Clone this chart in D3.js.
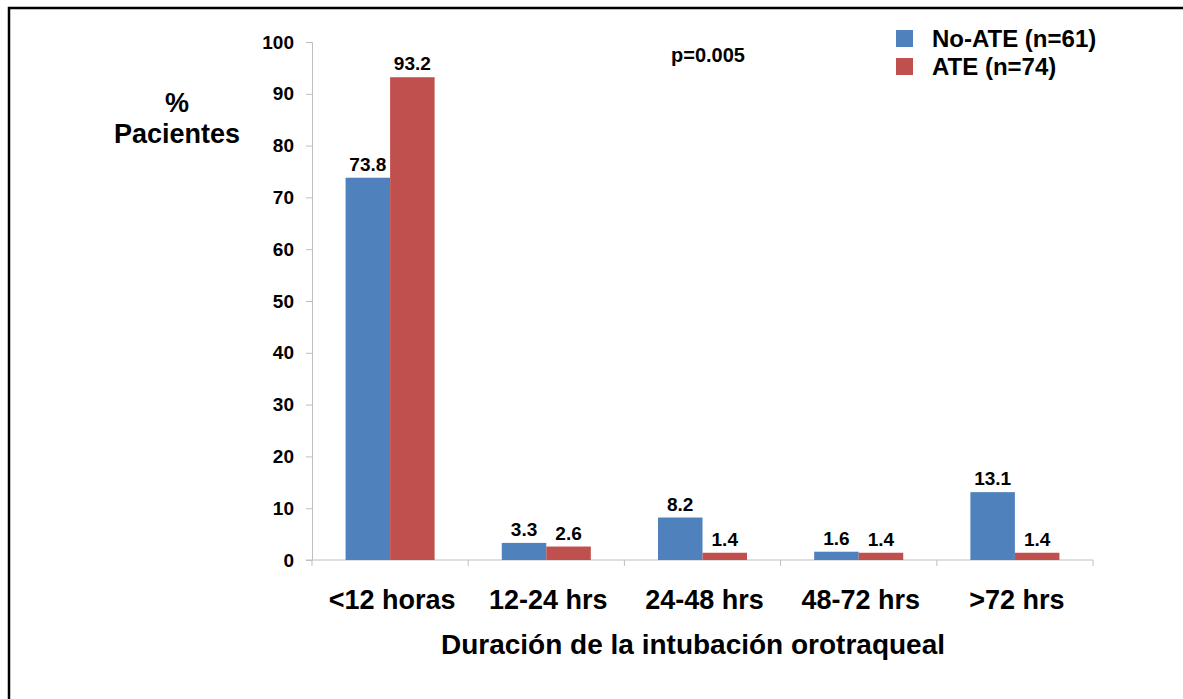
<!DOCTYPE html>
<html>
<head>
<meta charset="utf-8">
<script src="https://cdn.jsdelivr.net/npm/d3@7"></script>
<style>
  body { margin: 0; background: #fff; }
  text { font-family: "Liberation Sans", Arial, sans-serif; font-weight: bold; }
</style>
</head>
<body>
<svg width="1183" height="699"></svg>
<script>
const categories = [ '<12 horas', '12-24 hrs', '24-48 hrs', '48-72 hrs', '>72 hrs' ];
const series = [ 'No-ATE (n=61)', 'ATE (n=74)' ];
const noAte = [ 73.8, 3.3, 8.2, 1.6, 13.1 ];
const ate = [ 93.2, 2.6, 1.4, 1.4, 1.4 ];
const yTicks = [ 0, 10, 20, 30, 40, 50, 60, 70, 80, 90, 100 ];
const colors = [ '#4F81BD', '#C0504D' ];

const margin = { left: 312, right: 90, top: 42, bottom: 139 };
const W = 1183, H = 699;

const svg = d3.select( 'svg' );

// frame lines (top and left only)
svg.append( 'path' )
  .attr( 'd', 'M9,699 V8 H1183' )
  .attr( 'fill', 'none' )
  .attr( 'stroke', '#000' )
  .attr( 'stroke-width', 2.5 );

const x = d3.scaleBand().domain( categories ).range( [ margin.left, W - margin.right ] );
const x1 = d3.scaleBand().domain( series )
  .range( [ x.bandwidth() * 0.215, x.bandwidth() * 0.785 ] );
const y = d3.scaleLinear().domain( [ 0, 100 ] ).range( [ H - margin.bottom, margin.top ] );

// y axis
const yAxis = svg.append( 'g' )
  .attr( 'transform', 'translate(' + margin.left + ',0)' )
  .call( d3.axisLeft( y ).tickValues( yTicks ).tickSize( 6 ).tickPadding( 12 ) );
yAxis.selectAll( 'line, path' ).attr( 'stroke', '#bfbfbf' );
yAxis.selectAll( 'text' ).attr( 'font-size', 19 ).attr( 'fill', '#000' );

// x axis with ticks at band edges
const xAxis = svg.append( 'g' ).attr( 'transform', 'translate(0,' + y( 0 ) + ')' );
xAxis.append( 'line' )
  .attr( 'x1', margin.left - 6 ).attr( 'x2', W - margin.right )
  .attr( 'stroke', '#bfbfbf' );
const edges = categories.map( d => x( d ) ).concat( [ W - margin.right ] );
xAxis.selectAll( '.edge' ).data( edges ).enter().append( 'line' )
  .attr( 'x1', d => d ).attr( 'x2', d => d )
  .attr( 'y1', 0 ).attr( 'y2', 6 )
  .attr( 'stroke', '#bfbfbf' );

// clip for category labels (first one gets cut like the original)
const defs = svg.append( 'defs' );
categories.forEach( function( c, i ) {
  defs.append( 'clipPath' ).attr( 'id', 'clip' + i )
    .append( 'rect' )
    .attr( 'x', x( c ) - 20 ).attr( 'y', 560 )
    .attr( 'width', x.bandwidth() + 10 ).attr( 'height', 60 );
} );
svg.selectAll( '.cat' ).data( categories ).enter().append( 'text' )
  .attr( 'x', d => x( d ) + x.bandwidth() / 2 + 2 )
  .attr( 'y', 609 )
  .attr( 'text-anchor', 'middle' )
  .attr( 'font-size', 27 )
  .attr( 'clip-path', ( d, i ) => 'url(#clip' + i + ')' )
  .text( d => d );

// bars
const rows = categories.map( ( c, i ) => ( { cat: c, vals: [ noAte[ i ], ate[ i ] ] } ) );
const groups = svg.selectAll( '.grp' ).data( rows ).enter().append( 'g' )
  .attr( 'transform', d => 'translate(' + x( d.cat ) + ',0)' );

groups.selectAll( 'rect' )
  .data( d => d.vals.map( ( v, j ) => ( { s: series[ j ], v: v, j: j } ) ) )
  .enter().append( 'rect' )
  .attr( 'x', d => x1( d.s ) )
  .attr( 'width', x1.bandwidth() )
  .attr( 'y', d => y( d.v ) )
  .attr( 'height', d => y( 0 ) - y( d.v ) )
  .attr( 'fill', d => colors[ d.j ] );

groups.selectAll( '.val' )
  .data( d => d.vals.map( ( v, j ) => ( { s: series[ j ], v: v } ) ) )
  .enter().append( 'text' )
  .attr( 'x', d => x1( d.s ) + x1.bandwidth() / 2 )
  .attr( 'y', d => y( d.v ) - 7 )
  .attr( 'text-anchor', 'middle' )
  .attr( 'font-size', 19 )
  .text( d => d.v.toFixed( 1 ) );

// y title
svg.append( 'text' ).attr( 'x', 177 ).attr( 'y', 112 ).attr( 'text-anchor', 'middle' )
  .attr( 'font-size', 27 ).text( '%' );
svg.append( 'text' ).attr( 'x', 177 ).attr( 'y', 143 ).attr( 'text-anchor', 'middle' )
  .attr( 'font-size', 27 ).text( 'Pacientes' );

// x title
svg.append( 'text' ).attr( 'x', 693 ).attr( 'y', 654 ).attr( 'text-anchor', 'middle' )
  .attr( 'font-size', 28 ).text( 'Duración de la intubación orotraqueal' );

// p value
svg.append( 'text' ).attr( 'x', 708 ).attr( 'y', 62 ).attr( 'text-anchor', 'middle' )
  .attr( 'font-size', 20 ).text( 'p=0.005' );

// legend
const legend = svg.selectAll( '.leg' ).data( series ).enter().append( 'g' )
  .attr( 'transform', ( d, i ) => 'translate(896,' + ( 30 + i * 28 ) + ')' );
legend.append( 'rect' ).attr( 'width', 17 ).attr( 'height', 17 )
  .attr( 'fill', ( d, i ) => colors[ i ] );
legend.append( 'text' ).attr( 'x', 36 ).attr( 'y', 17 )
  .attr( 'font-size', 24 ).text( d => d );
</script>
</body>
</html>
